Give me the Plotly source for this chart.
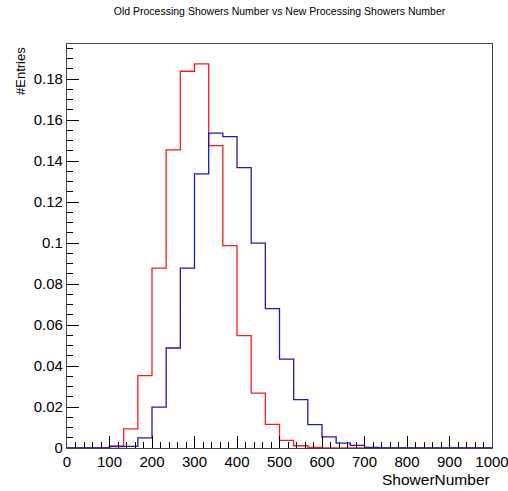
import numpy as np
import plotly.graph_objects as go

# Histogram definition: 30 bins from 0 to 1000
n_bins = 30
x_min, x_max = 0, 1000

# Normalized entries per bin (old processing = red, new processing = blue)
old_processing = [0, 0, 0, 0.0010, 0.0093, 0.0353, 0.0878, 0.1455, 0.1839, 0.1875,
                  0.1476, 0.0988, 0.0549, 0.0268, 0.0115, 0.0037, 0.0011, 0.0003, 0, 0,
                  0, 0, 0, 0, 0, 0, 0, 0, 0, 0]
new_processing = [0, 0, 0, 0.0007, 0.0008, 0.0049, 0.0200, 0.0488, 0.0878, 0.1338,
                  0.1537, 0.1520, 0.1369, 0.1000, 0.0680, 0.0434, 0.0236, 0.0114, 0.0054, 0.0024,
                  0.0013, 0.0003, 0, 0, 0, 0, 0, 0, 0, 0]

x_tick_vals = [0, 100, 200, 300, 400, 500, 600, 700, 800, 900, 1000]
x_tick_text = ["0", "100", "200", "300", "400", "500", "600", "700", "800", "900", "1000"]
y_tick_vals = [0, 0.02, 0.04, 0.06, 0.08, 0.1, 0.12, 0.14, 0.16, 0.18]
y_tick_text = ["0", "0.02", "0.04", "0.06", "0.08", "0.1", "0.12", "0.14", "0.16", "0.18"]

edges = np.linspace(x_min, x_max, n_bins + 1)


def step_xy(vals):
    y = list(vals) + [vals[-1]]
    return list(edges), y


fig = go.Figure()
xr, yr = step_xy(old_processing)
fig.add_trace(go.Scatter(x=xr, y=yr, mode="lines", line=dict(color="#ff1a1a", width=1.3, shape="hv"),
                         name="Old Processing", showlegend=False, hoverinfo="skip"))
xb, yb = step_xy(new_processing)
fig.add_trace(go.Scatter(x=xb, y=yb, mode="lines", line=dict(color="#1c1cb4", width=1.3, shape="hv"),
                         name="New Processing", showlegend=False, hoverinfo="skip"))

W, H = 508, 491
L, R, T, B = 67, 16, 44, 43
ph = H - T - B

tick_font = dict(family="Liberation Sans, Arial, sans-serif", size=15, color="#000000")

fig.update_layout(
    width=W, height=H,
    margin=dict(l=L, r=R, t=T, b=B, pad=0, autoexpand=False),
    paper_bgcolor="white", plot_bgcolor="white",
    title=dict(text="Old Processing Showers Number vs New Processing Showers Number",
               x=0.5, xref="paper", y=1 - 11 / H, yref="container", yanchor="middle", xanchor="center",
               font=dict(family="Liberation Sans, Arial, sans-serif", size=10.5, color="#000000")),
    xaxis=dict(range=[x_min, x_max], tickvals=x_tick_vals, ticktext=x_tick_text,
               ticks="inside", ticklen=12, tickwidth=1, tickcolor="#000000",
               minor=dict(dtick=20, ticks="inside", ticklen=6, tickwidth=1, tickcolor="#000000"),
               showgrid=False, zeroline=False, showline=True, mirror=True,
               linecolor="#444444", linewidth=1.3, tickfont=tick_font, fixedrange=True,
               ticklabeloverflow="allow", automargin=False),
    yaxis=dict(range=[0, 0.1972], tickvals=y_tick_vals, ticktext=y_tick_text,
               ticks="inside", ticklen=12, tickwidth=1, tickcolor="#000000",
               minor=dict(dtick=0.005, ticks="inside", ticklen=6, tickwidth=1, tickcolor="#000000"),
               showgrid=False, zeroline=False, showline=True, mirror=True,
               linecolor="#444444", linewidth=1.3, tickfont=tick_font, fixedrange=True,
               ticklabeloverflow="allow", automargin=False),
    annotations=[
        dict(text="ShowerNumber", xref="paper", yref="paper", x=1.0, y=-(479 - (T + ph)) / ph,
             xanchor="right", yanchor="middle", showarrow=False,
             font=dict(family="Liberation Sans, Arial, sans-serif", size=15.5, color="#000000")),
        dict(text="#Entries", xref="paper", yref="paper", x=(20 - L) / (W - L - R), y=1.0 - 1 / ph,
             xanchor="center", yanchor="top", textangle=-90, showarrow=False,
             font=dict(family="Liberation Sans, Arial, sans-serif", size=13, color="#000000")),
    ],
)

fig.write_html("out.html")
